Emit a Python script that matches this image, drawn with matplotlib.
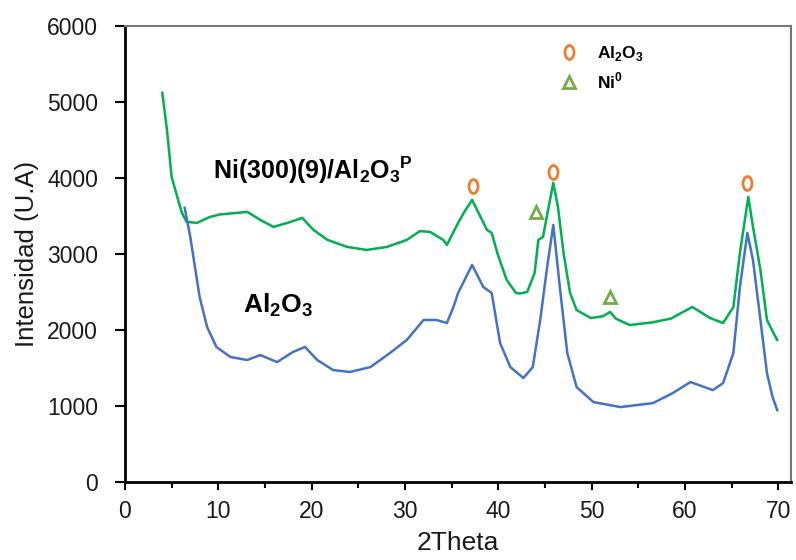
import matplotlib
matplotlib.use('Agg')
import matplotlib.pyplot as plt
from matplotlib.markers import MarkerStyle
from matplotlib.transforms import Affine2D
from matplotlib.lines import Line2D

plt.rcParams['font.family'] = ['Liberation Sans', 'DejaVu Sans']
plt.rcParams['mathtext.fontset'] = 'custom'
plt.rcParams['mathtext.rm'] = 'Liberation Sans'
plt.rcParams['mathtext.bf'] = 'Liberation Sans:bold'

# Ni(300)(9)/Al2O3P pattern (green)
tt_ni = [4.0, 4.5, 5.0, 5.6, 6.1, 6.6, 7.7, 9.1, 10.2, 12.0, 13.1, 14.5, 15.9,
         17.4, 19.0, 20.2, 21.7, 23.8, 25.9, 28.1, 30.2, 31.6, 32.7, 34.1,
         34.5, 35.7, 36.3, 37.2, 38.1, 38.8, 39.3, 39.9, 40.9, 41.9, 42.3,
         43.1, 43.9, 44.3, 44.8, 45.2, 45.9, 46.4, 47.0, 47.7, 48.4, 49.9,
         51.2, 52.0, 52.6, 54.1, 56.5, 58.5, 60.8, 62.7, 64.1, 65.2, 65.9,
         66.8, 67.3, 68.1, 68.8, 69.5, 69.9]
int_ni = [5119, 4632, 4014, 3751, 3540, 3422, 3408, 3487, 3520, 3540, 3553,
          3448, 3356, 3408, 3474, 3316, 3185, 3093, 3053, 3093, 3185, 3300,
          3290, 3185, 3119, 3408, 3540, 3711, 3487, 3316, 3277, 3013, 2660,
          2487, 2480, 2500, 2750, 3185, 3224, 3487, 3935, 3619, 3013, 2487,
          2263, 2158, 2180, 2237, 2150, 2066, 2100, 2150, 2303, 2158, 2092,
          2303, 3013, 3750, 3356, 2790, 2132, 1961, 1869]

# Al2O3 support pattern (blue)
tt_al = [6.4, 7.0, 7.5, 8.0, 8.8, 9.8, 11.3, 13.1, 14.5, 16.3, 18.0, 19.3,
         20.6, 22.3, 24.1, 26.3, 28.4, 30.2, 32.0, 33.4, 34.5, 35.2, 35.7,
         37.2, 38.4, 39.3, 40.2, 41.3, 42.7, 43.7, 44.5, 45.2, 45.9, 46.6,
         47.4, 48.4, 50.2, 53.1, 56.6, 58.7, 60.6, 63.0, 64.1, 65.2, 65.9,
         66.7, 67.3, 68.1, 68.8, 69.4, 69.9]
int_al = [3606, 3224, 2829, 2435, 2040, 1777, 1645, 1606, 1671, 1579, 1711,
          1777, 1606, 1474, 1448, 1513, 1698, 1869, 2132, 2132, 2092, 2303,
          2487, 2856, 2566, 2487, 1829, 1513, 1369, 1513, 2132, 2790, 3382,
          2566, 1698, 1250, 1053, 987, 1040, 1171, 1316, 1210, 1303, 1698,
          2566, 3277, 2921, 2132, 1434, 1119, 947]

# phase markers
al2o3_x = [37.3, 45.9, 66.7]
al2o3_y = [3895, 4080, 3935]
ni_x = [44.1, 52.0]
ni_y = [3553, 2435]

fig = plt.figure(figsize=(7.96, 5.6), dpi=100)
ax = fig.add_axes([0.157, 0.139, 0.837, 0.815])

ax.plot(tt_ni, int_ni, color='#00B050', lw=1.8)
ax.plot(tt_al, int_al, color='#4472C4', lw=1.8)

oval = MarkerStyle('o', transform=Affine2D().scale(0.65, 1.0))
ax.plot(al2o3_x, al2o3_y, ls='none', marker=oval, ms=10, mfc='none',
        mec='#ED7D31', mew=2)
ax.plot(ni_x, ni_y, ls='none', marker='^', ms=9, mfc='none',
        mec='#70AD47', mew=2)

ax.text(9.4, 3990, r'Ni(300)(9)/Al$_\mathbf{2}$O$_\mathbf{3}$$^\mathbf{P}$',
        fontsize=18, fontweight='bold')
ax.text(12.6, 2224, r'Al$_\mathbf{2}$O$_\mathbf{3}$', fontsize=19,
        fontweight='bold')

handles = [Line2D([], [], ls='none', marker=oval, ms=10, mfc='none',
                  mec='#ED7D31', mew=2),
           Line2D([], [], ls='none', marker='^', ms=9, mfc='none',
                  mec='#70AD47', mew=2)]
leg = ax.legend(handles, [r'Al$_\mathbf{2}$O$_\mathbf{3}$', r'Ni$^\mathbf{0}$'],
                loc='upper left', bbox_to_anchor=(0.628, 0.995), frameon=False,
                handlelength=1.2, handletextpad=1.0, labelspacing=0.45,
                prop={'size': 12.5, 'weight': 'bold'})

ax.set_xlim(0, 71.4)
ax.set_ylim(0, 6000)
ax.set_xticks(range(0, 71, 10))
ax.set_xticks(range(5, 71, 10), minor=True)
ax.set_yticks(range(0, 6001, 1000))
ax.tick_params(axis='both', labelsize=16.5, direction='out', width=1.5,
               labelcolor='#1a1a1a')
ax.tick_params(axis='y', length=7, pad=12.5)
ax.tick_params(axis='x', which='major', length=6, pad=6.5)
ax.tick_params(axis='x', which='minor', length=4, width=1.5)
ax.tick_params(top=False, right=False)

for s in ['left', 'bottom']:
    ax.spines[s].set_linewidth(2)
    ax.spines[s].set_color('black')
for s in ['top', 'right']:
    ax.spines[s].set_linewidth(1.5)
    ax.spines[s].set_color('#777777')

ax.set_xlabel('2Theta', fontsize=19, color='#1a1a1a', labelpad=6)
ax.set_ylabel('Intensidad (U.A)', fontsize=18.5, color='#1a1a1a', labelpad=6)

fig.savefig('out.png', dpi=100)
